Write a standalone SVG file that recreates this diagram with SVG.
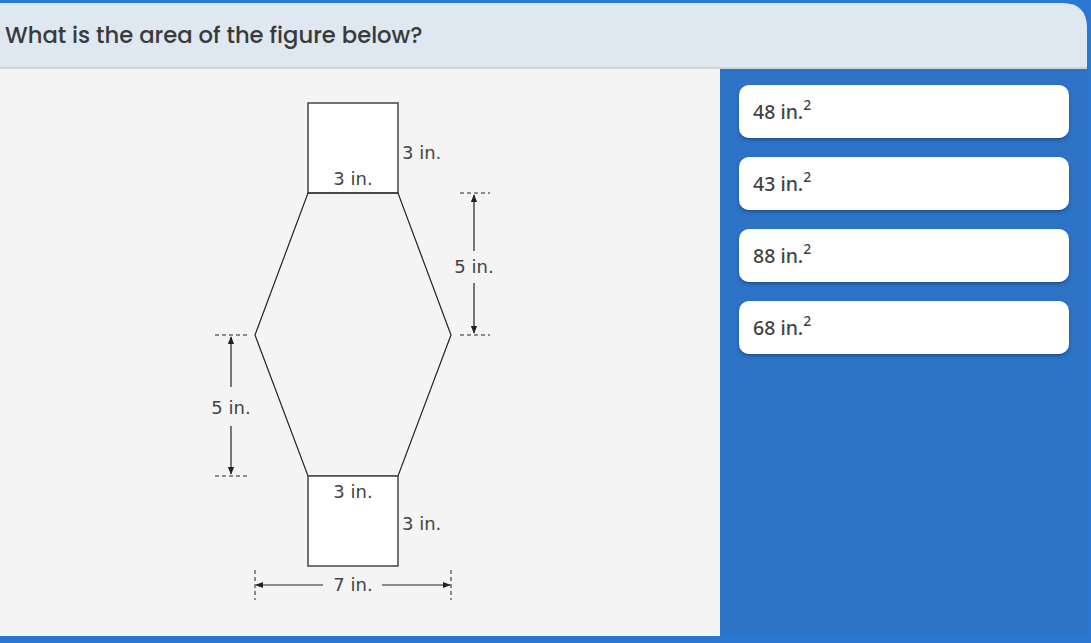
<svg xmlns="http://www.w3.org/2000/svg" width="1091" height="643" viewBox="0 0 1091 643">
<defs>
<style>
.lbl{font-family:"DejaVu Sans",sans-serif;font-size:18px;fill:#444}
.shape{fill:#fff;stroke:#444;stroke-width:1.5}
.hex{fill:none;stroke:#222;stroke-width:1.2}
.dash{stroke:#222;stroke-width:1;stroke-dasharray:4,3;fill:none}
.dim{stroke:#222;stroke-width:1.2;fill:none}
.card{fill:#fff}
.ans{font-family:"Noto Sans","Open Sans",sans-serif;font-size:19.5px;font-weight:500;fill:#444}
.sup{font-size:14px}
</style>
<marker id="ah" viewBox="0 0 10 10" refX="9" refY="5" markerWidth="8" markerHeight="8" orient="auto-start-reverse" markerUnits="userSpaceOnUse">
<path d="M0,1 L10,5 L0,9 Z" fill="#222"/>
</marker>
<filter id="sh" x="-5%" y="-20%" width="110%" height="150%">
<feDropShadow dx="0" dy="2" stdDeviation="1.5" flood-color="#000" flood-opacity="0.3"/>
</filter>
</defs>
<rect x="0" y="0" width="1091" height="643" fill="#2a78d2"/>
<rect x="720" y="66" width="368" height="570" fill="#2c72c5"/>
<path d="M0,3 H1062 Q1087,3 1087,28 V68 H0 Z" fill="#dfe7f1"/>
<rect x="0" y="67" width="1087" height="2" fill="#d0d4da"/>
<rect x="0" y="69" width="720" height="567" fill="#f4f4f4"/>
<text x="5" y="43" font-family="Poppins,'Open Sans','Noto Sans',sans-serif" font-size="22.7" font-weight="500" fill="#3a3a3a">What is the area of the figure below?</text>
<g id="figure">
<rect class="shape" x="308" y="103" width="90" height="90"/>
<polygon class="hex" points="308,193 398,193 451,335 398,476 308,476 255,335" fill="#f4f4f4"/>
<rect class="shape" x="308" y="476" width="90" height="90"/>
<text class="lbl" x="353" y="185" text-anchor="middle">3 in.</text>
<text class="lbl" x="402" y="159">3 in.</text>
<text class="lbl" x="353" y="498" text-anchor="middle">3 in.</text>
<text class="lbl" x="402" y="530">3 in.</text>
</g>
<g id="connectors">
<line class="dash" x1="460" y1="193" x2="490" y2="193"/>
<line class="dash" x1="460" y1="335" x2="490" y2="335"/>
<line class="dim" x1="474" y1="195" x2="474" y2="251" marker-start="url(#ah)"/>
<line class="dim" x1="474" y1="283" x2="474" y2="333" marker-end="url(#ah)"/>
<line class="dash" x1="215" y1="335" x2="248" y2="335"/>
<line class="dash" x1="215" y1="476" x2="248" y2="476"/>
<line class="dim" x1="231" y1="337" x2="231" y2="387" marker-start="url(#ah)"/>
<line class="dim" x1="231" y1="426" x2="231" y2="474" marker-end="url(#ah)"/>
<line class="dash" x1="255" y1="570" x2="255" y2="600"/>
<line class="dash" x1="451" y1="570" x2="451" y2="600"/>
<line class="dim" x1="256" y1="585" x2="323" y2="585" marker-start="url(#ah)"/>
<line class="dim" x1="382" y1="585" x2="450" y2="585" marker-end="url(#ah)"/>
</g>
<g id="dimlabels">
<text class="lbl" x="474" y="273" text-anchor="middle">5 in.</text>
<text class="lbl" x="231" y="414" text-anchor="middle">5 in.</text>
<text class="lbl" x="353" y="591" text-anchor="middle">7 in.</text>
</g>
<g id="opt1">
<rect class="card" x="739" y="85" width="330" height="53" rx="10" filter="url(#sh)"/>
<text class="ans" x="753" y="119">48 in.<tspan class="sup" dy="-9">2</tspan></text>
</g>
<g id="opt2">
<rect class="card" x="739" y="157" width="330" height="53" rx="10" filter="url(#sh)"/>
<text class="ans" x="753" y="191">43 in.<tspan class="sup" dy="-9">2</tspan></text>
</g>
<g id="opt3">
<rect class="card" x="739" y="229" width="330" height="53" rx="10" filter="url(#sh)"/>
<text class="ans" x="753" y="263">88 in.<tspan class="sup" dy="-9">2</tspan></text>
</g>
<g id="opt4">
<rect class="card" x="739" y="301" width="330" height="53" rx="10" filter="url(#sh)"/>
<text class="ans" x="753" y="335">68 in.<tspan class="sup" dy="-9">2</tspan></text>
</g>
</svg>
